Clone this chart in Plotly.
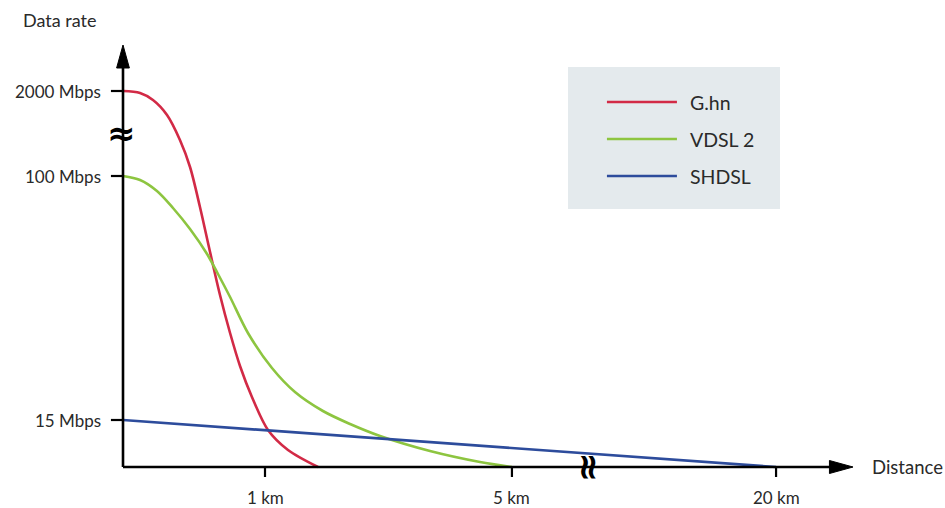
import plotly.graph_objects as go

# Schematic coordinates (distance position units, data-rate position units)
series_names = ["G.hn", "VDSL 2", "SHDSL"]
series_colors = ["#d22a46", "#8dc540", "#2d4c9c"]

ghn_x = [0.000, 0.120, 0.211, 0.310, 0.401, 0.472, 0.542, 0.613, 0.683, 0.754, 0.824, 0.908, 1.021, 1.162, 1.373]
ghn_y = [3.76, 3.74, 3.67, 3.52, 3.27, 3.00, 2.60, 2.15, 1.72, 1.34, 1.01, 0.70, 0.37, 0.17, 0.00]

vdsl_x = [0.000, 0.120, 0.239, 0.352, 0.472, 0.592, 0.669, 0.754, 0.880, 1.049, 1.211, 1.408, 1.599, 1.810, 2.162, 2.514, 2.739]
vdsl_y = [2.91, 2.87, 2.76, 2.59, 2.38, 2.13, 1.93, 1.70, 1.34, 0.99, 0.75, 0.56, 0.43, 0.31, 0.16, 0.05, 0.00]

shdsl_x = [0.000, 4.599]
shdsl_y = [0.47, 0.00]

x_tick_pos = [1.0, 2.739, 4.599]
x_tick_text = ["1 km", "5 km", "20 km"]
y_tick_pos = [0.47, 2.91, 3.76]
y_tick_text = ["15 Mbps", "100 Mbps", "2000 Mbps"]

FONT = "Lato, 'Open Sans', sans-serif"
TXT = "#2a2a2a"

fig = go.Figure()
for xs, ys, name, col in zip([ghn_x, vdsl_x, shdsl_x], [ghn_y, vdsl_y, shdsl_y], series_names, series_colors):
    fig.add_trace(go.Scatter(x=xs, y=ys, mode="lines", name=name,
                             line=dict(color=col, width=2.6, shape="spline", smoothing=0.9),
                             showlegend=False, hoverinfo="skip", cliponaxis=False))

shapes = []
# legend box
shapes.append(dict(type="rect", x0=3.134, x1=4.627, y0=2.58, y1=4.00, xref="x", yref="y",
                   fillcolor="#e4eaed", line=dict(width=0), layer="below"))
# axes
shapes.append(dict(type="line", x0=0, x1=0, y0=0, y1=4.05, xref="x", yref="y", line=dict(color="black", width=2.6)))
shapes.append(dict(type="line", x0=0, x1=5.01, y0=0, y1=0, xref="x", yref="y", line=dict(color="black", width=2.6)))
# arrow heads
shapes.append(dict(type="path", path="M -0.045 3.99 L 0 4.22 L 0.045 3.99 Z", xref="x", yref="y",
                   fillcolor="black", line=dict(color="black", width=1)))
shapes.append(dict(type="path", path="M 4.975 0.065 L 5.141 0 L 4.975 -0.065 Z", xref="x", yref="y",
                   fillcolor="black", line=dict(color="black", width=1)))
# tick marks
for yv in y_tick_pos:
    shapes.append(dict(type="line", x0=-0.085, x1=0, y0=yv, y1=yv, xref="x", yref="y", line=dict(color="black", width=2.2)))
for xv in x_tick_pos:
    shapes.append(dict(type="line", x0=xv, x1=xv, y0=0, y1=-0.10, xref="x", yref="y", line=dict(color="black", width=2.2)))
# legend lines
legend_y = [3.65, 3.28, 2.91]
for ly, col in zip(legend_y, series_colors):
    shapes.append(dict(type="line", x0=3.408, x1=3.901, y0=ly, y1=ly, xref="x", yref="y", line=dict(color=col, width=2.6)))

ann = []
for yv, t in zip(y_tick_pos, y_tick_text):
    ann.append(dict(x=-0.141, y=yv, text=t, xanchor="right", yanchor="middle", showarrow=False,
                    font=dict(family=FONT, size=17, color=TXT)))
for xv, t in zip(x_tick_pos, x_tick_text):
    ann.append(dict(x=xv, y=-0.30, text=t, xanchor="center", yanchor="middle", showarrow=False,
                    font=dict(family=FONT, size=17, color=TXT)))
for ly, t in zip(legend_y, series_names):
    ann.append(dict(x=3.979, y=ly, text=t, xanchor="left", yanchor="middle", showarrow=False,
                    font=dict(family=FONT, size=19.5, color=TXT)))
ann.append(dict(x=-0.444, y=4.47, text="Data rate", xanchor="center", yanchor="middle", showarrow=False,
                font=dict(family=FONT, size=18, color=TXT)))
ann.append(dict(x=5.26, y=0.0, text="Distance", xanchor="left", yanchor="middle", showarrow=False,
                font=dict(family=FONT, size=18.5, color=TXT)))
# axis break marks
ann.append(dict(x=-0.01, y=3.34, text="<b>≈</b>", xanchor="center", yanchor="middle", showarrow=False,
                font=dict(family="DejaVu Sans", size=34, color="black")))
ann.append(dict(x=3.289, y=0.0, text="<b>≈</b>", textangle=90, xanchor="center", yanchor="middle", showarrow=False,
                font=dict(family="DejaVu Sans", size=36, color="black")))

fig.update_layout(
    width=945, height=508,
    margin=dict(l=0, r=0, t=0, b=0),
    paper_bgcolor="white", plot_bgcolor="white",
    xaxis=dict(range=[-0.86620, 5.78873], visible=False, fixedrange=True),
    yaxis=dict(range=[-0.41, 4.67], visible=False, fixedrange=True),
    shapes=shapes, annotations=ann,
)
fig.write_html("out.html", config={"displayModeBar": False},
               post_script="document.body.style.margin='0';document.body.style.overflow='hidden';")
